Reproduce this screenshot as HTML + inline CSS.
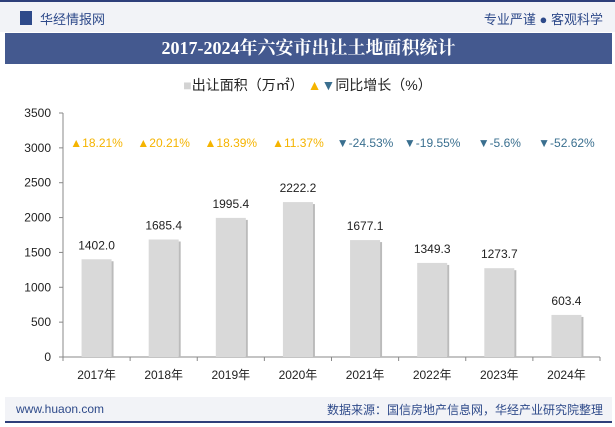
<!DOCTYPE html>
<html><head><meta charset="utf-8"><style>
body{margin:0;width:615px;height:427px;overflow:hidden;background:#fff;font-family:"Liberation Sans","Noto Sans CJK SC",sans-serif;position:relative}
.abs{position:absolute}
</style></head><body>
<div class="abs" style="left:0;top:0;width:615px;height:32px;background:#f2f3f7;border-top:2px solid #2e3f7a;box-sizing:border-box"></div>
<div class="abs" style="left:20px;top:11px;width:12px;height:14px;background:#2e4a8a"></div>
<div class="abs" style="left:40px;top:9px;font-size:13px;color:#2e4a8a">华经情报网</div>
<div class="abs" style="right:12px;top:9px;font-size:13px;color:#2e4a8a">专业严谨 ● 客观科学</div>
<div class="abs" style="left:5px;top:33px;width:607px;height:31px;background:#44598f;color:#fff;font-family:'Liberation Serif','Noto Serif CJK SC',serif;font-weight:bold;font-size:18px;text-align:center;line-height:31px">2017-2024年六安市出让土地面积统计</div>
<div class="abs" style="left:0;width:615px;top:75px;text-align:center;font-size:14px;color:#222"><span style="color:#d3d3d3">■</span>出让面积（万㎡） <span style="color:#f5b400">▲</span><span style="color:#3a6f8f">▼</span>同比增长（%）</div>
<svg class="abs" style="left:0;top:0" width="615" height="427" id="chart"></svg>
<div class="abs" style="left:5px;top:397px;width:607px;height:26px;background:#f2f3f7;border-bottom:2px solid #2e3f7a;box-sizing:border-box"></div>
<div class="abs" style="left:16px;top:402px;font-size:12px;color:#2e4a8a">www.huaon.com</div>
<div class="abs" style="right:12px;top:401px;font-size:12px;color:#2e4a8a">数据来源：国信房地产信息网，华经产业研究院整理</div>
<script>
const categories=['2017年','2018年','2019年','2020年','2021年','2022年','2023年','2024年'];
const values=[1402.0,1685.4,1995.4,2222.2,1677.1,1349.3,1273.7,603.4];
const growth=[18.21,20.21,18.39,11.37,-24.53,-19.55,-5.6,-52.62];
const growthLabels=['18.21%','20.21%','18.39%','11.37%','-24.53%','-19.55%','-5.6%','-52.62%'];
const yTicks=[0,500,1000,1500,2000,2500,3000,3500];
const svg=document.getElementById('chart');const NS='http://www.w3.org/2000/svg';
const x0=63,x1=600,y0=357,yTop=113,yMax=3500;
const y=v=>y0-(v/yMax)*(y0-yTop);
const slot=(x1-x0)/categories.length;
const xc=i=>x0+slot*(i+0.5);
function mk(t,a){const e=document.createElementNS(NS,t);for(const k in a)e.setAttribute(k,a[k]);svg.appendChild(e);return e;}
const ax=mk('line',{x1:x0,y1:yTop,x2:x0,y2:y0,stroke:'#888'});


const bx=mk('line',{x1:x0,y1:y0,x2:x1,y2:y0,stroke:'#888'});


yTicks.forEach(v=>{mk('line',{x1:x0-4,y1:y(v),x2:x0,y2:y(v),stroke:'#888'});
const t=mk('text',{x:x0-12,y:y(v)+4,'text-anchor':'end','font-size':12,fill:'#222'});t.textContent=v;

});
for(let i=0;i<=categories.length;i++)mk('line',{x1:x0+slot*i,y1:y0,x2:x0+slot*i,y2:y0+4,stroke:'#888'});
categories.forEach((c,i)=>{
const r=mk('rect',{x:xc(i)-15,y:y(values[i]),width:30,height:y0-y(values[i]),fill:'#d9d9d9'});


mk('rect',{x:xc(i)+15,y:y(values[i])+2,width:2,height:y0-y(values[i])-2,fill:'#bbb'});
const v=mk('text',{x:xc(i),y:y(values[i])-10,'text-anchor':'middle','font-size':12,fill:'#222'});v.textContent=values[i].toFixed(1);


const xl=mk('text',{x:xc(i),y:y0+22,'text-anchor':'middle','font-size':12,fill:'#222'});xl.textContent=c;


const up=growth[i]>=0;
const g=mk('text',{x:xc(i),y:147,'text-anchor':'middle','font-size':12,fill:up?'#f5b400':'#3a6f8f'});g.textContent=(up?'▲':'▼')+growthLabels[i];


});
</script>
</body></html>
